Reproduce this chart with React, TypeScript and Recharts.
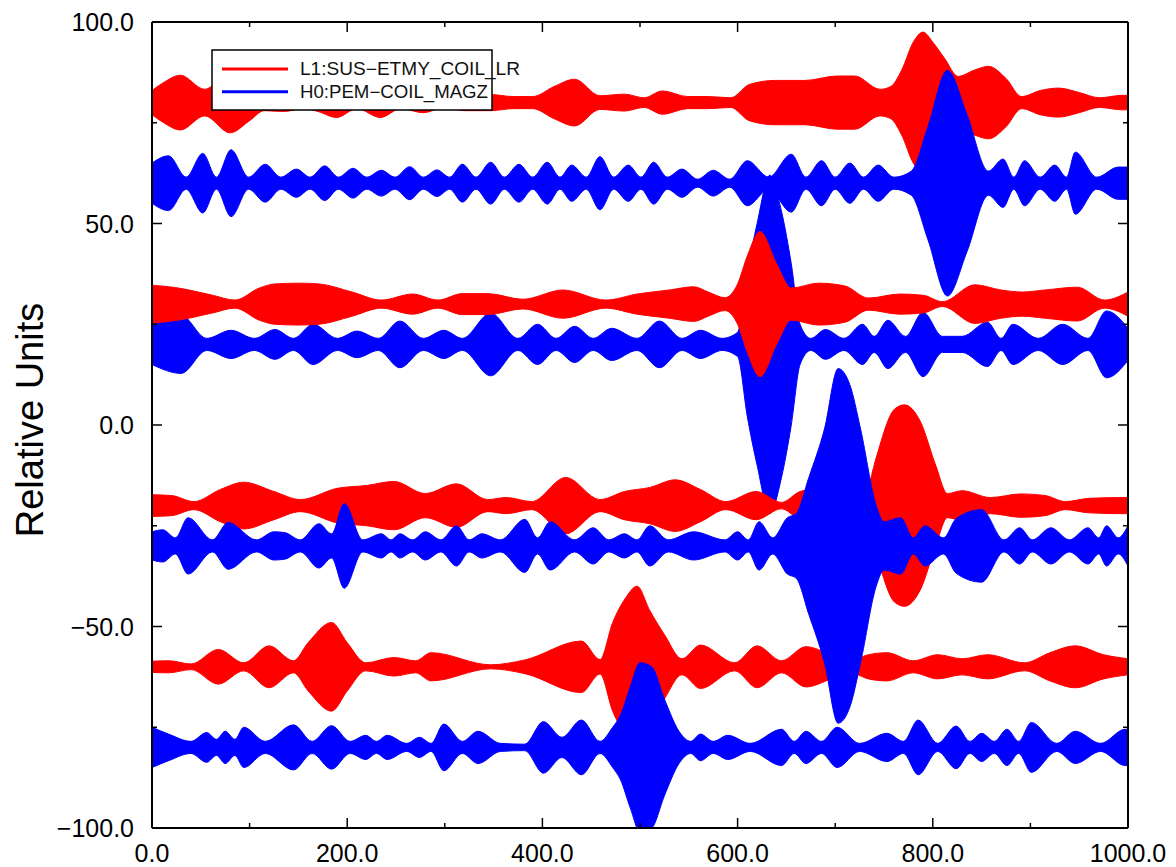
import { ComposedChart, Area, XAxis, YAxis, Label } from "recharts";

// envelope of each trace: [time, half amplitude]
const red80: [number, number][] = [
  [0, 3], [12, 5], [29, 6.8], [54, 3.3], [80, 7.5], [100, 4.5], [115, 2], [135, 2.2],
  [155, 1.5], [170, 2.2], [189, 3.7], [210, 1.5], [234, 3.7], [255, 1.5], [278, 2.5],
  [300, 1.2], [320, 2], [347, 2], [370, 1.5], [390, 1.5], [412, 4], [433, 5.8], [459, 1.7],
  [484, 2.1], [504, 1.2], [523, 2.9], [549, 1.5], [570, 1.5], [593, 1.2], [612, 4.5],
  [638, 5.5], [669, 5.5], [702, 6.6], [720, 6.6], [746, 3.3], [757, 4], [768, 8],
  [780, 15], [790, 17.5], [800, 15], [812, 11], [826, 6.5], [842, 8], [857, 9], [875, 6],
  [891, 1.5], [910, 3], [929, 3.6], [950, 2.5], [971, 1.2], [994, 1.8], [1000, 1.8],
];

const blue60: [number, number][] = [
  [0, 5], [17, 6.8], [35, 1.5], [52, 7.4], [66, 1.5], [81, 8.3], [99, 1.5], [116, 4.7],
  [132, 1.5], [148, 3.5], [162, 1.5], [177, 4.3], [191, 1.5], [206, 3.7], [220, 1.5],
  [235, 3.2], [249, 1.5], [264, 4.1], [278, 1.5], [292, 3.3], [305, 1.5], [318, 4.7],
  [332, 1.5], [347, 5.2], [361, 1.5], [376, 4.7], [390, 1.5], [405, 5.2], [418, 1.5],
  [430, 4.5], [445, 1.5], [459, 6.6], [473, 1.5], [488, 4.5], [501, 1.5], [514, 5.2],
  [528, 1.5], [543, 3.5], [559, 1], [575, 3.2], [592, 1], [610, 5.6], [632, 1.5],
  [655, 7.2], [670, 1.5], [686, 5.6], [700, 1.5], [715, 5], [729, 1.5], [744, 4.5],
  [760, 1.5], [778, 3], [795, 14], [815, 28], [835, 17], [857, 3], [872, 6], [883, 1.5],
  [894, 5.6], [910, 1.5], [925, 4.5], [937, 1.5], [946, 7.7], [968, 1.5], [990, 4], [1000, 4],
];

const red30: [number, number][] = [
  [0, 4.7], [24, 4.1], [62, 2.2], [85, 1], [110, 4], [126, 5], [150, 5.2], [171, 5],
  [205, 3], [235, 1], [267, 2.5], [293, 1], [318, 2.6], [344, 2.6], [380, 1.2],
  [421, 3.5], [465, 1], [497, 2.5], [530, 3.5], [555, 4.3], [570, 3], [587, 1.6],
  [600, 5], [610, 12], [623, 18], [640, 10], [655, 4], [683, 5.2], [710, 4.5], [734, 1.5],
  [766, 2.5], [790, 2.2], [810, 0.6], [843, 4.8], [870, 3.5], [892, 3], [915, 3.5],
  [948, 4.2], [976, 1], [1000, 3],
];

const blue20: [number, number][] = [
  [0, 5], [30, 7.2], [56, 1.5], [81, 3.5], [105, 1.5], [126, 3.7], [145, 1.5], [165, 5],
  [190, 1.5], [210, 3.3], [232, 1.5], [254, 5.8], [278, 1.5], [299, 3.5], [318, 1.5],
  [347, 7.8], [375, 1.5], [395, 5], [414, 1.5], [433, 4.5], [452, 1.5], [471, 4],
  [497, 1.5], [520, 5.8], [543, 1.5], [562, 3.5], [584, 1.5], [600, 3], [610, 18],
  [620, 30], [633, 42], [645, 33], [655, 20], [664, 5], [675, 1.5], [690, 3.7], [709, 1.5],
  [728, 5], [740, 2], [754, 6], [772, 2], [790, 8], [810, 2], [830, 2], [856, 5.5],
  [870, 1.5], [882, 5], [908, 1.5], [933, 5], [959, 1.5], [978, 8.3], [1000, 4],
];

const redM20: [number, number][] = [
  [0, 2.7], [20, 2.5], [43, 1], [70, 4], [94, 5.8], [125, 3.5], [152, 1.5], [190, 4.3],
  [220, 5], [248, 6], [280, 3], [312, 5.4], [344, 1.5], [363, 2], [389, 1], [424, 7],
  [459, 1.5], [484, 3.5], [510, 4.5], [536, 6.4], [562, 4], [588, 1], [619, 3.5],
  [645, 0.8], [664, 3.5], [690, 4.5], [710, 3.5], [725, 3], [734, 5], [741, 11],
  [761, 24], [771, 25], [787, 21], [803, 10], [815, 3], [830, 3.7], [859, 2], [890, 2.9],
  [915, 2.5], [936, 1], [960, 1.8], [993, 2], [1000, 2],
];

const blueM30: [number, number][] = [
  [0, 3.5], [11, 4], [24, 2], [37, 7], [62, 1.5], [78, 5.8], [107, 1.5], [125, 3.5],
  [136, 3.3], [152, 1.5], [171, 5.5], [184, 3], [197, 10.5], [216, 1.5], [235, 3],
  [245, 1.5], [254, 3], [267, 1.5], [280, 3.5], [296, 1.5], [312, 5], [325, 1.5],
  [338, 3], [357, 1.5], [382, 6.6], [395, 2], [408, 6], [433, 1.5], [452, 4.5],
  [468, 1.5], [484, 3], [497, 1.5], [510, 5], [529, 1.5], [555, 3.5], [587, 1.5],
  [600, 3.5], [611, 1.5], [622, 6], [636, 2], [651, 7], [660, 8], [673, 17], [689, 29],
  [703, 44], [715, 40], [726, 29], [742, 10], [750, 6], [767, 7], [780, 2], [792, 5],
  [811, 2], [824, 6.8], [850, 9], [873, 1.5], [889, 4.5], [902, 1.5], [921, 4.5],
  [940, 1.5], [959, 4.5], [970, 2], [978, 5], [990, 2], [1000, 5],
];

const redM60: [number, number][] = [
  [0, 1.4], [17, 1.5], [40, 0.7], [68, 4.3], [94, 1], [120, 5.2], [145, 1.5], [160, 6],
  [184, 11], [200, 6], [219, 1], [248, 2.3], [270, 1.5], [286, 3.5], [347, 0.5],
  [382, 1.7], [440, 6.4], [459, 1.8], [472, 11], [485, 17], [497, 20], [510, 14],
  [525, 8], [543, 2], [562, 5.4], [597, 1], [620, 5.2], [645, 1.5], [670, 5], [696, 3],
  [715, 1.5], [734, 3], [753, 3.5], [780, 1.5], [805, 3], [830, 2], [856, 3], [894, 1],
  [920, 3.5], [946, 5.2], [975, 3], [1000, 2],
];

const blueM80: [number, number][] = [
  [0, 5], [17, 3.3], [40, 1.5], [56, 3.7], [66, 2], [75, 4], [85, 2], [94, 5], [116, 1.5],
  [145, 5.6], [164, 1.5], [184, 5.4], [203, 1.5], [219, 3], [230, 1.5], [241, 3], [261, 1],
  [274, 2.5], [286, 1], [299, 5.8], [318, 1.5], [334, 4], [357, 1], [382, 0.8], [401, 6.4],
  [420, 2.5], [440, 6.8], [459, 1.5], [472, 5], [480, 8], [490, 15], [500, 21], [512, 20],
  [525, 12], [540, 4], [552, 1.5], [562, 3.3], [575, 1.5], [590, 3], [613, 1], [645, 4.5],
  [658, 1.5], [670, 4], [686, 1.5], [702, 5], [725, 1], [753, 3.5], [770, 1.5], [785, 6.8],
  [805, 1], [824, 5.3], [838, 1.5], [850, 3.5], [863, 1.5], [876, 4.5], [888, 1.5],
  [901, 6.2], [927, 1], [946, 4], [972, 1], [997, 4.5], [1000, 4.5],
];

const xTicks = [0, 100, 200, 300, 400, 500, 600, 700, 800, 900, 1000];
const xMajor = [0, 200, 400, 600, 800, 1000];
const yTicks = [-100, -75, -50, -25, 0, 25, 50, 75, 100];
const yMajor = [-100, -50, 0, 50, 100];

const legendNames = ["L1:SUS\u2212ETMY_COIL_LR", "H0:PEM\u2212COIL_MAGZ"];

const RED = "#ff0000";
const BLUE = "#0000ff";
const FONT = "'Liberation Sans', Arial, Helvetica, sans-serif";

// drawing order matters: later traces sit on top
// the last trace is tied to the top/right axes so that the frame gets drawn
const traces = [
  { id: "r80", center: 80, env: red80, color: RED, xa: "b", ya: "l" },
  { id: "b60", center: 60, env: blue60, color: BLUE, xa: "b", ya: "l" },
  { id: "b20", center: 20, env: blue20, color: BLUE, xa: "b", ya: "l" },
  { id: "r30", center: 30, env: red30, color: RED, xa: "b", ya: "l" },
  { id: "rm20", center: -20, env: redM20, color: RED, xa: "b", ya: "l" },
  { id: "rm60", center: -60, env: redM60, color: RED, xa: "b", ya: "l" },
  { id: "bm30", center: -30, env: blueM30, color: BLUE, xa: "b", ya: "l" },
  { id: "bm80", center: -80, env: blueM80, color: BLUE, xa: "t", ya: "r" },
];

const fmt = (v: number) => (v < 0 ? "\u2212" + Math.abs(v).toFixed(1) : v.toFixed(1));

const BottomTick = ({ x, y, payload }: any) => {
  const major = xMajor.includes(payload.value);
  return (
    <g>
      <line x1={x} y1={y} x2={x} y2={y - (major ? 10 : 5)} stroke="#000" strokeWidth={1.5} />
      {major && (
        <text x={x} y={y + 34} textAnchor="middle" fontSize={25} fontFamily={FONT} fill="#000">
          {fmt(payload.value)}
        </text>
      )}
    </g>
  );
};

const TopTick = ({ x, y, payload }: any) => {
  const major = xMajor.includes(payload.value);
  return <line x1={x} y1={y} x2={x} y2={y + (major ? 10 : 5)} stroke="#000" strokeWidth={1.5} />;
};

const LeftTick = ({ x, y, payload }: any) => {
  const major = yMajor.includes(payload.value);
  return (
    <g>
      <line x1={x} y1={y} x2={x + (major ? 10 : 5)} y2={y} stroke="#000" strokeWidth={1.5} />
      {major && (
        <text x={x - 18} y={y + 9} textAnchor="end" fontSize={25} fontFamily={FONT} fill="#000">
          {fmt(payload.value)}
        </text>
      )}
    </g>
  );
};

const RightTick = ({ x, y, payload }: any) => {
  const major = yMajor.includes(payload.value);
  return <line x1={x} y1={y} x2={x - (major ? 10 : 5)} y2={y} stroke="#000" strokeWidth={1.5} />;
};

const YTitle = ({ viewBox }: any) => {
  const cy = viewBox.y + viewBox.height / 2 - 5;
  return (
    <text
      x={43}
      y={cy}
      transform={`rotate(-90, 43, ${cy})`}
      textAnchor="middle"
      fontSize={38}
      fontFamily={FONT}
      fill="#000"
    >
      Relative Units
    </text>
  );
};

export default function App() {
  const axisLine = { stroke: "#000", strokeWidth: 2 };
  return (
    <div style={{ position: "absolute", left: 0, top: 0, width: 1176, height: 867, background: "#fff" }}>
      <ComposedChart width={1176} height={867} margin={{ top: 21, right: 47, bottom: 0, left: 0 }}>
        <XAxis
          xAxisId="b"
          type="number"
          dataKey="x"
          domain={[0, 1000]}
          ticks={xTicks}
          interval={0}
          allowDataOverflow
          height={39}
          tickSize={0}
          tickMargin={0}
          tickLine={false}
          axisLine={axisLine}
          tick={<BottomTick />}
        />
        <XAxis
          xAxisId="t"
          orientation="top"
          type="number"
          dataKey="x"
          domain={[0, 1000]}
          ticks={xTicks}
          interval={0}
          allowDataOverflow
          height={1}
          tickSize={0}
          tickMargin={0}
          tickLine={false}
          axisLine={axisLine}
          tick={<TopTick />}
        />
        <YAxis
          yAxisId="l"
          type="number"
          domain={[-100, 100]}
          ticks={yTicks}
          interval={0}
          allowDataOverflow
          width={152}
          tickSize={0}
          tickMargin={0}
          tickLine={false}
          axisLine={axisLine}
          tick={<LeftTick />}
        >
          <Label content={<YTitle />} />
        </YAxis>
        <YAxis
          yAxisId="r"
          orientation="right"
          type="number"
          domain={[-100, 100]}
          ticks={yTicks}
          interval={0}
          allowDataOverflow
          width={1}
          tickSize={0}
          tickMargin={0}
          tickLine={false}
          axisLine={axisLine}
          tick={<RightTick />}
        />
        {traces.map((t) => (
          <Area
            key={t.id}
            xAxisId={t.xa}
            yAxisId={t.ya}
            type="monotone"
            data={t.env.map(([x, a]) => ({ x, band: [t.center - a, t.center + a] }))}
            dataKey="band"
            stroke={t.color}
            strokeWidth={1}
            fill={t.color}
            fillOpacity={1}
            dot={false}
            activeDot={false}
            isAnimationActive={false}
          />
        ))}
      </ComposedChart>
      <svg
        width={330}
        height={62}
        style={{ position: "absolute", left: 211, top: 49, overflow: "visible" }}
      >
        <rect x={1} y={1} width={280} height={60} fill="#fff" stroke="#000" strokeWidth={1.5} />
        {legendNames.map((name, i) => (
          <g key={name}>
            <line
              x1={11}
              x2={77}
              y1={20 + i * 22.7}
              y2={20 + i * 22.7}
              stroke={i === 0 ? RED : BLUE}
              strokeWidth={3}
            />
            <text
              x={89}
              y={26 + i * 22.7}
              fontSize={17.5}
              fontFamily={FONT}
              fill="#111"
              textLength={i === 0 ? 220 : 188}
              lengthAdjust="spacingAndGlyphs"
            >
              {name}
            </text>
          </g>
        ))}
      </svg>
    </div>
  );
}
